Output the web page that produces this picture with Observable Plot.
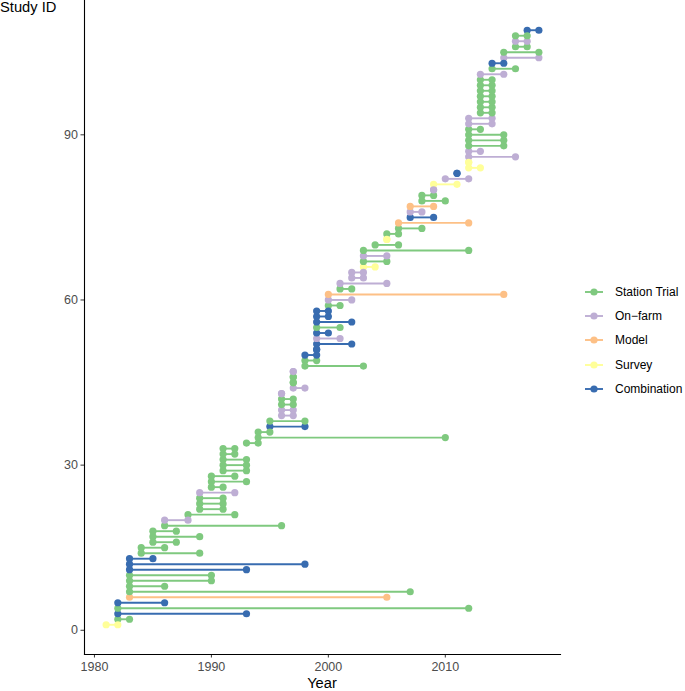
<!DOCTYPE html>
<html>
<head>
<meta charset="utf-8">
<script src="https://cdn.jsdelivr.net/npm/d3@7"></script>
<script src="https://cdn.jsdelivr.net/npm/@observablehq/plot@0.6"></script>
<style>
  html, body { margin: 0; padding: 0; background: #fff; }
  #wrap { position: relative; width: 685px; height: 691px; font-family: "Liberation Sans", Arial, sans-serif; }
  #wrap svg.plot { position: absolute; left: 0; top: 0; }
  .title { position: absolute; font-size: 14.7px; line-height: 1; color: #000; white-space: nowrap; }
  .leg { position: absolute; left: 584px; height: 14px; display: flex; align-items: center; font-size: 12px; color: #000; white-space: nowrap; }
  .leg svg { margin-right: 11px; }
</style>
</head>
<body>
<div id="wrap"></div>
<script>
// ---- data ----
const typeNames = ["Station Trial", "On\u2212farm", "Model", "Survey", "Combination"];
const typeColors = ["#7FC97F", "#BEAED4", "#FDC086", "#FFFF99", "#386CB0"];
const xTicks = [1980, 1990, 2000, 2010];
const yTicks = [0, 30, 60, 90];

// study IDs 1..109 (index + 1)
const startYear = [
  1981, 1982, 1982, 1982, 1982, 1983, 1983, 1983, 1983, 1983,
  1983, 1983, 1983, 1984, 1984, 1985, 1985, 1985, 1986, 1986,
  1988, 1989, 1989, 1989, 1989, 1990, 1990, 1990, 1991, 1991,
  1991, 1991, 1991, 1993, 1994, 1994, 1995, 1995, 1996, 1996,
  1996, 1996, 1996, 1997, 1997, 1997, 1997, 1998, 1998, 1998,
  1999, 1999, 1999, 1999, 1999, 1999, 1999, 1999, 2000, 2000,
  2000, 2001, 2001, 2002, 2002, 2003, 2003, 2003, 2003, 2004,
  2005, 2005, 2006, 2006, 2007, 2007, 2007, 2008, 2008, 2009,
  2009, 2010, 2011, 2012, 2012, 2012, 2012, 2012, 2012, 2012,
  2012, 2012, 2012, 2013, 2013, 2013, 2013, 2013, 2013, 2013,
  2013, 2014, 2014, 2015, 2015, 2016, 2016, 2016, 2017
];
const endYear = [
  1982, 1983, 1993, 2012, 1986, 2005, 2007, 1986, 1990, 1990,
  1993, 1998, 1985, 1989, 1986, 1987, 1989, 1987, 1996, 1988,
  1992, 1991, 1991, 1991, 1992, 1991, 1993, 1992, 1993, 1993,
  1993, 1992, 1992, 1994, 2010, 1995, 1998, 1998, 1997, 1997,
  1997, 1997, 1996, 1998, 1997, 1997, 1997, 2003, 1999, 1999,
  1999, 2002, 2001, 2000, 2001, 2002, 2000, 2000, 2001, 2002,
  2015, 2002, 2005, 2003, 2003, 2004, 2005, 2005, 2012, 2006,
  2005, 2006, 2008, 2012, 2009, 2008, 2009, 2010, 2009, 2009,
  2011, 2012, 2011, 2013, 2012, 2016, 2013, 2015, 2015, 2015,
  2013, 2014, 2014, 2014, 2014, 2014, 2014, 2014, 2014, 2014,
  2015, 2016, 2015, 2018, 2018, 2017, 2017, 2017, 2018
];
// S = Station Trial, O = On-farm, M = Model, V = Survey, C = Combination
const studyType = [
  "V","S","C","S","C","M","S","S","S","S",
  "C","C","C","S","S","S","S","S","S","O",
  "S","S","S","S","O","S","S","S","S","S",
  "S","S","S","S","S","S","C","S","O","O",
  "S","S","O","O","S","S","O","S","S","C",
  "C","C","O","C","S","C","C","C","S","O",
  "M","S","O","O","O","V","S","O","S","S",
  "V","S","S","M","C","O","M","S","S","O",
  "V","O","C","V","V","O","O","S","S","S",
  "S","O","O","S","S","S","S","S","S","S",
  "O","S","C","O","S","S","O","S","C"
];
const typeCode = {S: "Station Trial", O: "On\u2212farm", M: "Model", V: "Survey", C: "Combination"};

const studies = startYear.map((s, i) => ({
  id: i + 1,
  start: s,
  end: endYear[i],
  type: typeCode[studyType[i]]
}));

// ---- chart ----
const xPad = (d3.max(endYear) - d3.min(startYear)) * 0.05;
const yPad = (studies.length - 1) * 0.05;

const chart = Plot.plot({
  width: 685,
  height: 691,
  marginLeft: 84,
  marginRight: 125,
  marginTop: 0,
  marginBottom: 37,
  style: { fontFamily: "'Liberation Sans', Arial, sans-serif", fontSize: "12.5px", background: "white" },
  x: { domain: [d3.min(startYear) - xPad, d3.max(endYear) + xPad] },
  y: { domain: [1 - yPad, studies.length + yPad] },
  color: { domain: typeNames, range: typeColors },
  marks: [
    Plot.axisX({ ticks: xTicks, tickFormat: d => String(d), tickSize: 3.5, tickPadding: 4, label: null, stroke: "#333", fill: "#4d4d4d", fontSize: 12.5 }),
    Plot.axisY({ ticks: yTicks, tickSize: 3.5, tickPadding: 3, label: null, stroke: "#333", fill: "#4d4d4d", fontSize: 12.5 }),
    Plot.link(studies, { x1: "start", x2: "end", y1: "id", y2: "id", stroke: "type", strokeWidth: 1.9 }),
    Plot.dot(studies, { x: "start", y: "id", fill: "type", r: 3.6 }),
    Plot.dot(studies, { x: "end", y: "id", fill: "type", r: 3.6 }),
    Plot.frame({ anchor: "left", stroke: "#000", strokeWidth: 1.1 }),
    Plot.frame({ anchor: "bottom", stroke: "#000", strokeWidth: 1.1 })
  ]
});
chart.classList.add("plot");

const wrap = document.getElementById("wrap");
wrap.appendChild(chart);

// axis titles
const yTitle = document.createElement("div");
yTitle.className = "title";
yTitle.textContent = "Study ID";
yTitle.style.left = "0px";
yTitle.style.top = "0px";
wrap.appendChild(yTitle);

const xTitle = document.createElement("div");
xTitle.className = "title";
xTitle.textContent = "Year";
xTitle.style.left = "322px";
xTitle.style.top = "676px";
xTitle.style.transform = "translateX(-50%)";
wrap.appendChild(xTitle);

// legend
typeNames.forEach((name, i) => {
  const row = document.createElement("div");
  row.className = "leg";
  row.style.top = (285 + i * 24.2) + "px";
  row.innerHTML = `<svg width="20" height="14"><line x1="1" x2="19" y1="7" y2="7" stroke="${typeColors[i]}" stroke-width="1.9"/><circle cx="10" cy="7" r="3.6" fill="${typeColors[i]}"/></svg><span>${name}</span>`;
  wrap.appendChild(row);
});
</script>
</body>
</html>
